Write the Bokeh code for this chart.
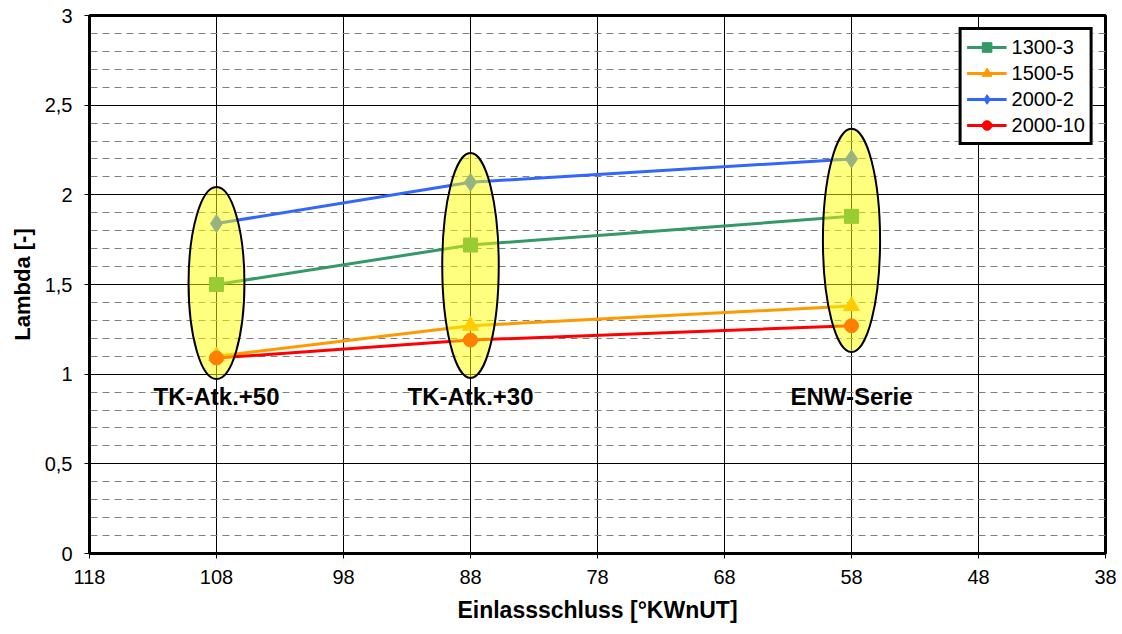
from bokeh.plotting import figure
from bokeh.models import Range1d, FixedTicker, Legend, LegendItem
from bokeh.core.properties import value
from bokeh.embed import file_html
from bokeh.resources import INLINE

# ---- data ----
x_vals = [108, 88, 58]
s1300_3 = [1.50, 1.72, 1.88]
s1500_5 = [1.10, 1.27, 1.38]
s2000_2 = [1.84, 2.07, 2.20]
s2000_10 = [1.09, 1.19, 1.27]
series_names = ["1300-3", "1500-5", "2000-2", "2000-10"]

x_ticks = [118, 108, 98, 88, 78, 68, 58, 48, 38]
y_ticks = [0, 0.5, 1, 1.5, 2, 2.5, 3]
y_tick_labels = ["0", "0,5", "1", "1,5", "2", "2,5", "3"]
y_minor = [0.1, 0.2, 0.3, 0.4, 0.6, 0.7, 0.8, 0.9, 1.1, 1.2, 1.3, 1.4,
           1.6, 1.7, 1.8, 1.9, 2.1, 2.2, 2.3, 2.4, 2.6, 2.7, 2.8, 2.9]

group_labels = ["TK-Atk.+50", "TK-Atk.+30", "ENW-Serie"]
group_label_x = [108, 88, 58]
group_label_y = [0.875, 0.875, 0.875]

ell_x = [108, 88, 58]
ell_y = [1.508, 1.606, 1.746]
ell_w = [4.4, 4.45, 4.5]
ell_h = [1.07, 1.255, 1.245]

FONT = "Liberation Sans"

p = figure(width=1122, height=634, output_backend="svg", toolbar_location=None,
           x_range=Range1d(118, 38), y_range=Range1d(0, 3),
           min_border_left=89, min_border_right=17, min_border_top=15,
           min_border_bottom=81)
p.background_fill_color = "white"
p.border_fill_color = "white"
p.outline_line_color = "black"
p.outline_line_width = 3

# axes
p.xaxis.ticker = FixedTicker(ticks=x_ticks)
p.yaxis.ticker = FixedTicker(ticks=y_ticks, minor_ticks=y_minor)
p.yaxis.major_label_overrides = {t: l for t, l in zip(y_ticks, y_tick_labels)}
for ax in (p.xaxis[0], p.yaxis[0]):
    ax.axis_line_width = 3
    ax.axis_line_color = "black"
    ax.major_tick_out = 5
    ax.major_tick_in = 0
    ax.minor_tick_out = 0
    ax.minor_tick_in = 0
    ax.major_tick_line_color = "black"
    ax.major_label_text_font = FONT
    ax.major_label_text_font_size = "20px"
    ax.major_label_text_color = "black"
    ax.axis_label_text_font = FONT
    ax.axis_label_text_font_style = "bold"
    ax.axis_label_text_color = "black"
p.xaxis.axis_label = "Einlassschluss [°KWnUT]"
p.yaxis.axis_label = "Lambda [-]"
p.xaxis.axis_label_text_font_size = "23px"
p.yaxis.axis_label_text_font_size = "22px"
p.xaxis.major_label_standoff = 11
p.xaxis.axis_label_standoff = 10
p.yaxis.major_label_standoff = 12
p.yaxis.axis_label_standoff = 7

# grids
p.xgrid.ticker = FixedTicker(ticks=x_ticks)
p.xgrid.grid_line_color = "black"
p.xgrid.grid_line_width = 1
p.ygrid.ticker = FixedTicker(ticks=y_ticks, minor_ticks=y_minor)
p.ygrid.grid_line_color = "black"
p.ygrid.grid_line_width = 1
p.ygrid.minor_grid_line_color = "#808080"
p.ygrid.minor_grid_line_width = 1
p.ygrid.minor_grid_line_dash = "7 5"

colors = ["#339966", "#ff9900", "#3366ff", "#ff0000"]
markers = ["square", "triangle", "diamond", "circle"]
sizes = [14, 16, 18, 14]
data = [s1300_3, s1500_5, s2000_2, s2000_10]

items = []
for name, ys, c, m, s in zip(series_names, data, colors, markers, sizes):
    r_line = p.line(x_vals, ys, line_color=c, line_width=3)
    r_pts = p.scatter(x_vals, ys, marker=m, size=s, fill_color=c, line_color=c)
    items.append(LegendItem(label=name, renderers=[r_line, r_pts]))

# highlight ellipses
p.ellipse(x=ell_x, y=ell_y, width=ell_w, height=ell_h,
          fill_color="#ffff00", fill_alpha=0.5, line_color="black", line_width=2)

p.text(x=group_label_x, y=group_label_y, text=group_labels,
       text_font=value(FONT), text_font_style="bold", text_font_size="24px",
       text_align="center", text_baseline="middle", text_color="black")

legend = Legend(items=items, location="top_right")
legend.margin = 12
legend.padding = 5
legend.spacing = 2
legend.label_height = 24
legend.glyph_height = 24
legend.glyph_width = 40
legend.label_standoff = 5
legend.label_text_font = FONT
legend.label_text_font_size = "20px"
legend.label_text_color = "black"
legend.border_line_color = "black"
legend.border_line_alpha = 1
legend.border_line_width = 3
legend.background_fill_color = "white"
legend.background_fill_alpha = 1
p.add_layout(legend)

open("out.html", "w").write(file_html(p, INLINE))
